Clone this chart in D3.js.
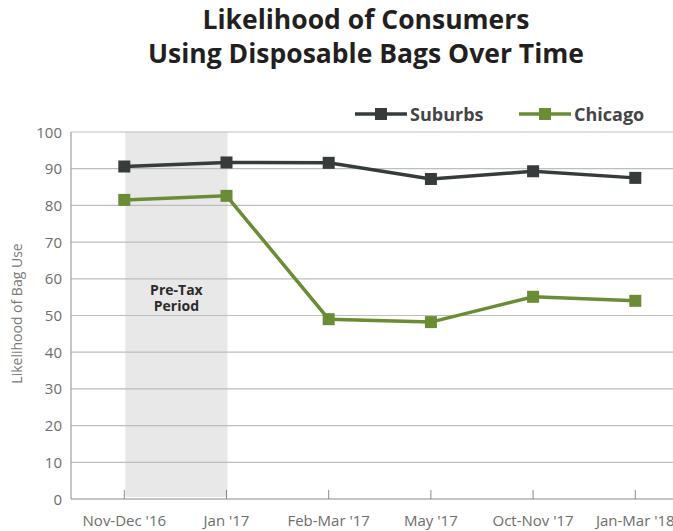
<!DOCTYPE html>
<html>
<meta charset="utf-8">
<head>
  <script src="https://d3js.org/d3.v7.min.js"></script>
</head>
<style>
  body {
    margin: 0;
    background-color: #ffffff;
    font-family: 'Open Sans', Lato, sans-serif;
  }
  .title {
    font-size: 26.5px;
    font-weight: bold;
    fill: #231f20;
  }
  .ylab, .xlab {
    font-size: 15px;
    fill: #6d6d6d;
  }
</style>
<body>
<script>
  var categories = ["Nov-Dec '16", "Jan '17", "Feb-Mar '17", "May '17", "Oct-Nov '17", "Jan-Mar '18"];
  var suburbs = [90.6, 91.7, 91.6, 87.2, 89.3, 87.5];
  var chicago = [81.5, 82.6, 49.0, 48.2, 55.1, 54.0];
  var yTicks = [0, 10, 20, 30, 40, 50, 60, 70, 80, 90, 100];
  var shadeFrom = "Nov-Dec '16", shadeTo = "Jan '17";

  var w = 673, h = 531;
  var plotL = 71, plotR = 673, plotT = 132, plotB = 499;

  var svg = d3.select("body").append("svg")
    .attr("width", w)
    .attr("height", h);

  var x = d3.scalePoint().domain(categories).range([124.3, 635.3]);
  var y = d3.scaleLinear().domain([0, 100]).range([plotB, plotT]);

  // title
  svg.append("text").attr("class", "title")
    .attr("x", 366).attr("y", 29).attr("text-anchor", "middle")
    .text("Likelihood of Consumers");
  svg.append("text").attr("class", "title")
    .attr("x", 366).attr("y", 63).attr("text-anchor", "middle")
    .text("Using Disposable Bags Over Time");

  // pre-tax shading
  svg.append("rect")
    .attr("x", x(shadeFrom) + 1)
    .attr("y", plotT)
    .attr("width", x(shadeTo) - x(shadeFrom))
    .attr("height", plotB - plotT - 2)
    .attr("fill", "#e8e8e8");

  svg.append("text")
    .attr("text-anchor", "middle")
    .attr("font-size", 14)
    .attr("font-weight", "bold")
    .attr("fill", "#2b2b2b")
    .selectAll("tspan")
    .data(["Pre-Tax", "Period"])
    .enter().append("tspan")
    .attr("x", (x(shadeFrom) + x(shadeTo)) / 2 + 1)
    .attr("y", function(d, i) { return 295 + i * 16; })
    .text(function(d) { return d; });

  // gridlines
  svg.selectAll("line.grid")
    .data(yTicks.filter(function(d) { return d > 0; }))
    .enter().append("line")
    .attr("class", "grid")
    .attr("x1", plotL).attr("x2", plotR)
    .attr("y1", function(d) { return y(d); })
    .attr("y2", function(d) { return y(d); })
    .attr("stroke", "#bdbdbd")
    .attr("stroke-width", 1.2);

  // axes
  svg.append("line")
    .attr("x1", plotL).attr("x2", plotL).attr("y1", plotT).attr("y2", plotB)
    .attr("stroke", "#a0a0a0").attr("stroke-width", 1.2);
  svg.append("line")
    .attr("x1", plotL).attr("x2", plotR).attr("y1", plotB).attr("y2", plotB)
    .attr("stroke", "#8a8a8a").attr("stroke-width", 1.2);

  svg.selectAll("line.xtick")
    .data(categories)
    .enter().append("line")
    .attr("class", "xtick")
    .attr("x1", function(d) { return x(d); })
    .attr("x2", function(d) { return x(d); })
    .attr("y1", plotB - 9).attr("y2", plotB)
    .attr("stroke", "#8a8a8a");

  svg.selectAll("text.ylab")
    .data(yTicks)
    .enter().append("text")
    .attr("class", "ylab")
    .attr("x", 62)
    .attr("y", function(d) { return y(d) + 5.5; })
    .attr("text-anchor", "end")
    .text(function(d) { return d; });

  svg.selectAll("text.xlab")
    .data(categories)
    .enter().append("text")
    .attr("class", "xlab")
    .attr("x", function(d) { return x(d); })
    .attr("y", 526)
    .attr("text-anchor", "middle")
    .text(function(d) { return d; });

  svg.append("text")
    .attr("transform", "translate(22," + (y(50) - 2) + ") rotate(-90)")
    .attr("text-anchor", "middle")
    .attr("font-size", 14)
    .attr("fill", "#7a7a7a")
    .text("Likelihood of Bag Use");

  // series
  var series = [
    { name: "Suburbs", values: suburbs, color: "#353c3b" },
    { name: "Chicago", values: chicago, color: "#6a8c35" }
  ];

  var line = d3.line()
    .x(function(d, i) { return x(categories[i]); })
    .y(function(d) { return y(d); });

  series.forEach(function(s) {
    svg.append("path")
      .attr("d", line(s.values))
      .attr("fill", "none")
      .attr("stroke", s.color)
      .attr("stroke-width", 3.5);
    svg.selectAll(null)
      .data(s.values)
      .enter().append("rect")
      .attr("x", function(d, i) { return x(categories[i]) - 6; })
      .attr("y", function(d) { return y(d) - 6; })
      .attr("width", 12).attr("height", 12)
      .attr("fill", s.color);
  });

  // legend
  var legendX = [355, 519];
  series.forEach(function(s, i) {
    var lx = legendX[i];
    svg.append("line")
      .attr("x1", lx).attr("x2", lx + 52)
      .attr("y1", 114).attr("y2", 114)
      .attr("stroke", s.color).attr("stroke-width", 3.5);
    svg.append("rect")
      .attr("x", lx + 20).attr("y", 108)
      .attr("width", 12).attr("height", 12)
      .attr("fill", s.color);
    svg.append("text")
      .attr("x", lx + 55).attr("y", 120.5)
      .attr("font-size", 18).attr("font-weight", "bold")
      .attr("fill", "#454545")
      .text(s.name);
  });
</script>
</body>
</html>
